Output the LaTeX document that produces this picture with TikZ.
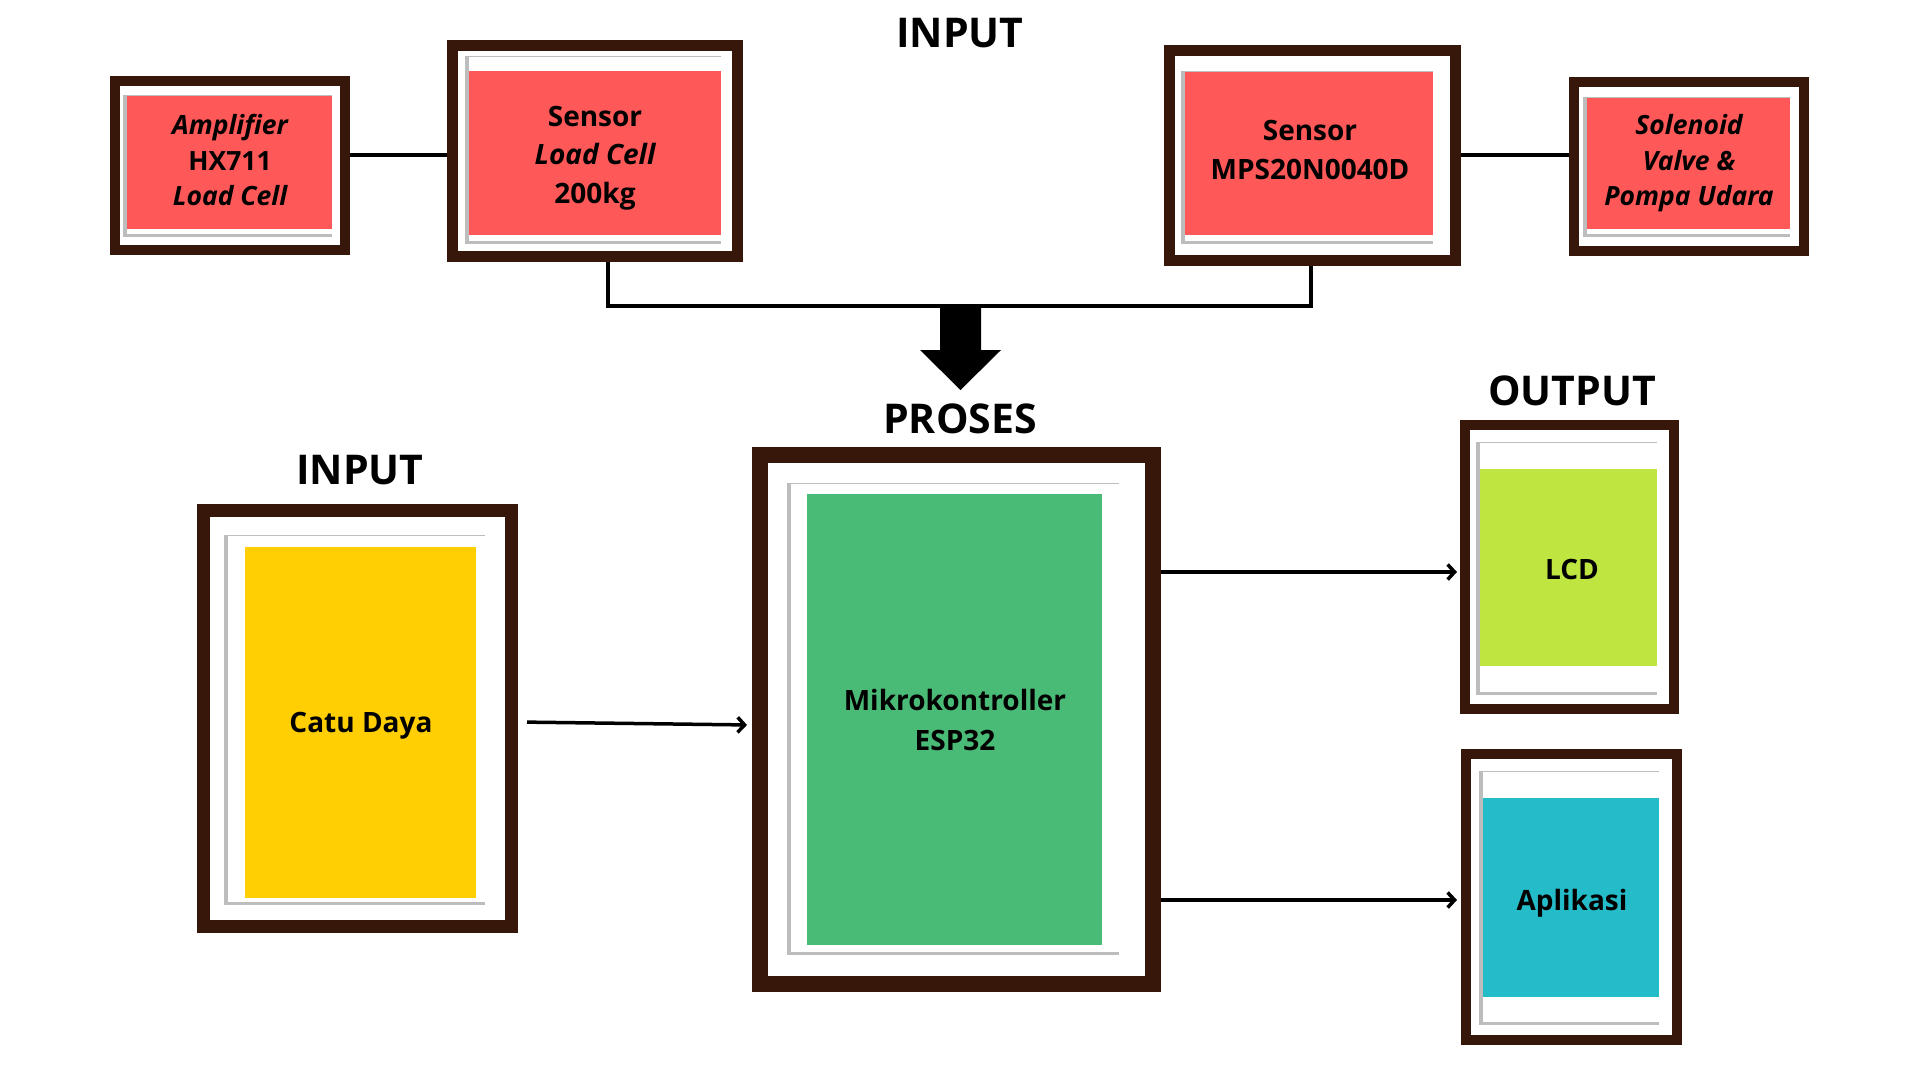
\documentclass[tikz,border=0pt]{standalone}
\usepackage{fontspec}
\setmainfont{Open Sans}
\usetikzlibrary{arrows.meta}
\definecolor{fbrown}{HTML}{361709}
\definecolor{cred}{HTML}{FF5858}
\definecolor{cyellow}{HTML}{FFCF03}
\definecolor{cgreen}{HTML}{4ABA77}
\definecolor{clime}{HTML}{BFE540}
\definecolor{ccyan}{HTML}{25BCC9}
\definecolor{matgray}{HTML}{BDBDBD}
\tikzset{
  pframe/.style={draw=fbrown, line width=#1, fill=white, inner sep=0pt},
  pframe/.default=10pt,
  cbox/.style={inner sep=0pt},
  ctext/.style={inner sep=0pt, align=center, text=black},
  bigtxt/.style={font=\fontsize{28}{38.5}\selectfont\bfseries},
  smalltxt/.style={font=\fontsize{26.5}{35.5}\selectfont\bfseries},
  boxtxt/.style={font=\fontsize{28}{40}\selectfont\bfseries},
  heading/.style={font=\fontsize{41}{44}\selectfont\bfseries, text=black, inner sep=0pt},
  conn/.style={draw=black, line width=4pt},
  arr/.style={draw=black, line width=3.5pt, -{Straight Barb[length=7pt,width=15pt,line width=3.5pt]}},
}
\newcommand{\pmat}[4]{%
  \fill[matgray] (#1-4,#2-1.5) rectangle (#3,#4+2.5);
  \fill[white] (#1,#2) rectangle (#3,#4);
}
\begin{document}
\begin{tikzpicture}[x=1pt,y=-1pt]
\useasboundingbox (0,0) rectangle (1920,1080);
\fill[white] (0,0) rectangle (1920,1080);

% ---------- top row frames ----------
\node[pframe=10pt, minimum width=230pt, minimum height=169pt] (amp) at (230,165.5) {};
\node[pframe=11pt, minimum width=285pt, minimum height=211pt] (load) at (595,151) {};
\node[pframe=11pt, minimum width=286pt, minimum height=210pt] (mps) at (1312.5,155.5) {};
\node[pframe=10pt, minimum width=230pt, minimum height=169pt] (sol) at (1689,166.5) {};

\pmat{127}{96}{332}{234}
\pmat{469}{57}{721}{241}
\pmat{1185}{72}{1433}{241}
\pmat{1587}{98}{1790}{234}

\node[cbox, fill=cred, minimum width=205pt, minimum height=133pt] (ampB) at (229.5,162.5) {};
\node[cbox, fill=cred, minimum width=252pt, minimum height=164pt] (loadB) at (595,153) {};
\node[cbox, fill=cred, minimum width=248pt, minimum height=163pt] (mpsB) at (1309,153.5) {};
\node[cbox, fill=cred, minimum width=203pt, minimum height=131pt] (solB) at (1688.5,163.5) {};

\node[ctext, smalltxt] (ampL) at (230,160) {\itshape Amplifier\\HX711\\\itshape Load Cell};
\node[ctext, bigtxt] (loadL) at (595,158) {Sensor\\\itshape Load Cell\\200kg};
\node[ctext, bigtxt] (mpsL) at (1310,150) {Sensor\\MPS20N0040D};
\node[ctext, smalltxt] (solL) at (1689,163.5) {\itshape Solenoid\\\itshape Valve \&\\\itshape Pompa Udara};

% connectors top
\coordinate (ytop) at (0,155);
\draw[conn] (amp.east |- ytop) -- (load.west |- ytop);
\draw[conn] (mps.east |- ytop) -- (sol.west |- ytop);
\coordinate (bus) at (960,306);
\draw[conn] ([xshift=13pt]load.south) |- (bus) -| ([xshift=-1.5pt]mps.south);

% big down arrow
\fill[black] (940,306) -- (981,306) -- (981,350) -- (1001,350) -- (960.5,390)
  -- (920,350) -- (940,350) -- cycle;

% ---------- headings ----------
\node[heading] (hin1) at (960,33) {INPUT};
\node[heading] (hpro) at (960,419) {PROSES};
\node[heading] (hin2) at (360,470) {INPUT};
\node[heading] (hout) at (1572,391) {OUTPUT};

% ---------- lower frames ----------
\node[pframe=13pt, minimum width=308pt, minimum height=416pt] (catu) at (357.5,718.5) {};
\node[pframe=16pt, minimum width=393pt, minimum height=529pt] (esp) at (956.5,719.5) {};
\node[pframe=10pt, minimum width=209pt, minimum height=284pt] (lcd) at (1569.5,567) {};
\node[pframe=10pt, minimum width=211pt, minimum height=286pt] (apl) at (1571.5,897) {};

\pmat{228}{536}{485}{902}
\pmat{791}{484}{1119}{952}
\pmat{1480}{443}{1657}{692}
\pmat{1483}{772}{1659}{1022}

\node[cbox, fill=cyellow, minimum width=231pt, minimum height=351pt] (catuB) at (360,722.5) {};
\node[cbox, fill=cgreen, minimum width=295pt, minimum height=451pt] (espB) at (954.5,719.5) {};
\node[cbox, fill=clime, minimum width=177pt, minimum height=197pt] (lcdB) at (1568.5,567.5) {};
\node[cbox, fill=ccyan, minimum width=176pt, minimum height=199pt] (aplB) at (1571,897.5) {};

\node[ctext, boxtxt] (catuL) at (361,726) {Catu Daya};
\node[ctext, boxtxt] (espL) at (955,719.5) {Mikrokontroller\\ESP32};
\node[ctext, boxtxt] (lcdL) at (1572,569) {LCD};
\node[ctext, boxtxt] (aplL) at (1572,903) {Aplikasi};

% ---------- arrows ----------
\coordinate (ya) at (0,722);
\coordinate (yb) at (0,725);
\draw[arr, shorten <=9pt, shorten >=5pt] (catu.east |- ya) -- (esp.west |- yb);
\coordinate (y1) at (0,572);
\coordinate (y2) at (0,900);
\draw[arr, shorten >=3pt] (esp.east |- y1) -- (lcd.west |- y1);
\draw[arr, shorten >=4pt] (esp.east |- y2) -- (apl.west |- y2);
\end{tikzpicture}
\end{document}
